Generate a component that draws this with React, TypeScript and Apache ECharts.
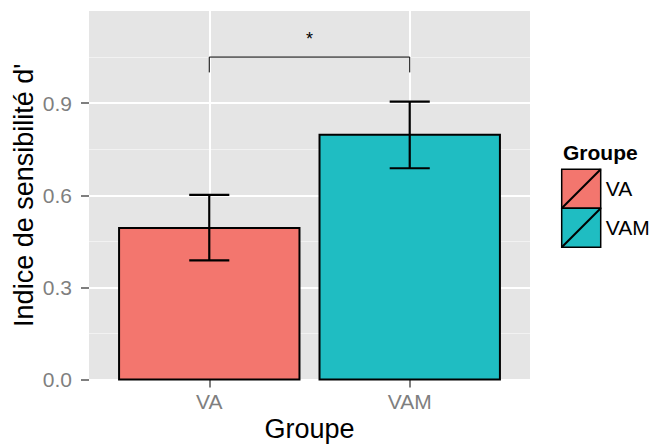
import React, { useEffect, useRef } from "react";
import * as echarts from "echarts";

// ---- data ----
const groups = ["VA", "VAM"];
const means = [0.493, 0.797];
const lower = [0.388, 0.688];
const upper = [0.601, 0.905];
const fills = ["#F3766E", "#1FBDC2"];
const yTicks = [0, 0.3, 0.6, 0.9];
const bracketX = [1, 2];
const bracketY = [1.0, 1.05];
const sigLabel = "*";
const sigY = 1.11;
const legendTitle = "Groupe";
const xTitle = "Groupe";
const yTitle = "Indice de sensibilité d'";

const FONT = "'Liberation Sans', Arial, Helvetica, sans-serif";

export default function App() {
  const ref = useRef<HTMLDivElement>(null);
  useEffect(() => {
    if (!ref.current) return;
    const chart = echarts.init(ref.current, null, { renderer: "svg" });
    const xPos = groups.map((_, i) => i + 1);

    const legendKeys: any[] = [];
    const kx = 561.7, ky0 = 169.3, ks = 39;
    groups.forEach((g, i) => {
      const ky = ky0 + i * ks;
      legendKeys.push({
        type: "rect",
        shape: { x: kx, y: ky, width: ks, height: ks },
        style: { fill: fills[i], stroke: "#000", lineWidth: 1.5 },
      });
      legendKeys.push({
        type: "line",
        shape: { x1: kx, y1: ky + ks, x2: kx + ks, y2: ky },
        style: { stroke: "#000", lineWidth: 2 },
      });
      legendKeys.push({
        type: "text",
        x: kx + ks + 5,
        y: ky + ks / 2,
        style: {
          text: g,
          fontSize: 21,
          fontFamily: FONT,
          fill: "#000",
          align: "left",
          verticalAlign: "middle",
        },
      });
    });

    chart.setOption({
      animation: false,
      backgroundColor: "#fff",
      textStyle: { fontFamily: FONT },
      grid: {
        left: 89,
        right: 123,
        top: 11,
        bottom: 65.5,
        show: true,
        backgroundColor: "#E5E5E5",
        borderWidth: 0,
        outerBoundsMode: "none",
        containLabel: false,
      },
      xAxis: {
        type: "value",
        min: 0.4,
        max: 2.6,
        name: xTitle,
        nameLocation: "middle",
        nameGap: 36,
        nameMoveOverlap: false,
        nameTextStyle: { fontSize: 27, color: "#000", fontFamily: FONT },
        axisLine: { show: false },
        axisTick: {
          show: true,
          customValues: xPos,
          length: 8,
          lineStyle: { color: "#7F7F7F", width: 2 },
        },
        axisLabel: {
          customValues: xPos,
          formatter: (v: number) => groups[Math.round(v) - 1] ?? "",
          fontSize: 21,
          color: "#7F7F7F",
          margin: 11,
          fontFamily: FONT,
        },
        splitLine: { show: true, lineStyle: { color: "#FFFFFF", width: 2 } },
      },
      yAxis: {
        type: "value",
        min: 0,
        max: 1.2,
        interval: 0.3,
        name: yTitle,
        nameLocation: "middle",
        nameGap: 52,
        nameMoveOverlap: false,
        nameTextStyle: { fontSize: 27, color: "#000", fontFamily: FONT },
        axisLine: { show: false },
        axisTick: {
          show: true,
          customValues: yTicks,
          length: 8,
          lineStyle: { color: "#7F7F7F", width: 2 },
        },
        axisLabel: {
          customValues: yTicks,
          formatter: (v: number) => v.toFixed(1),
          fontSize: 21,
          color: "#7F7F7F",
          margin: 17,
          fontFamily: FONT,
        },
        splitLine: { show: true, lineStyle: { color: "#FFFFFF", width: 2 } },
        minorTick: { show: false, splitNumber: 2 },
        minorSplitLine: { show: true, lineStyle: { color: "#F2F2F2", width: 1 } },
      },
      series: [
        {
          type: "custom",
          data: groups.map((_, i) => [xPos[i], means[i]]),
          renderItem: (params: any, api: any) => {
            const x = api.value(0);
            const y = api.value(1);
            const p0 = api.coord([x - 0.45, y]);
            const p1 = api.coord([x + 0.45, 0]);
            return {
              type: "rect",
              shape: { x: p0[0], y: p0[1], width: p1[0] - p0[0], height: p1[1] - p0[1] },
              style: { fill: fills[params.dataIndex], stroke: "#000", lineWidth: 2 },
            };
          },
          z: 2,
        },
        {
          type: "custom",
          data: groups.map((_, i) => [xPos[i], lower[i], upper[i]]),
          renderItem: (params: any, api: any) => {
            const x = api.value(0);
            const lo = api.value(1);
            const hi = api.value(2);
            const a = api.coord([x, lo]);
            const b = api.coord([x, hi]);
            const l = api.coord([x - 0.1, lo]);
            const r = api.coord([x + 0.1, hi]);
            const st = { stroke: "#000", lineWidth: 2.2 };
            return {
              type: "group",
              children: [
                { type: "line", shape: { x1: a[0], y1: a[1], x2: b[0], y2: b[1] }, style: st },
                { type: "line", shape: { x1: l[0], y1: a[1], x2: r[0], y2: a[1] }, style: st },
                { type: "line", shape: { x1: l[0], y1: b[1], x2: r[0], y2: b[1] }, style: st },
              ],
            };
          },
          z: 3,
        },
        {
          type: "custom",
          data: [[bracketX[0], bracketX[1], bracketY[0], bracketY[1]]],
          renderItem: (params: any, api: any) => {
            const x1 = api.value(0), x2 = api.value(1), ylo = api.value(2), yhi = api.value(3);
            const pts = [
              api.coord([x1, ylo]),
              api.coord([x1, yhi]),
              api.coord([x2, yhi]),
              api.coord([x2, ylo]),
            ];
            return {
              type: "polyline",
              shape: { points: pts },
              style: { stroke: "#000", lineWidth: 1, fill: "none" },
            };
          },
          z: 3,
        },
        {
          type: "custom",
          data: [[(bracketX[0] + bracketX[1]) / 2, sigY]],
          renderItem: (params: any, api: any) => {
            const p = api.coord([api.value(0), api.value(1)]);
            return {
              type: "text",
              x: p[0],
              y: p[1],
              style: {
                text: sigLabel,
                fontSize: 18,
                fontFamily: FONT,
                fill: "#000",
                align: "center",
                verticalAlign: "middle",
              },
            };
          },
          z: 3,
        },
      ],
      graphic: [
        {
          type: "text",
          x: 563,
          y: 152,
          style: {
            text: legendTitle,
            fontSize: 21,
            fontWeight: "bold",
            fontFamily: FONT,
            fill: "#000",
            align: "left",
            verticalAlign: "middle",
          },
        },
        ...legendKeys,
      ],
    });
    return () => chart.dispose();
  }, []);
  return (
    <div
      ref={ref}
      style={{ position: "fixed", left: 0, top: 0, width: 653, height: 445 }}
    />
  );
}
